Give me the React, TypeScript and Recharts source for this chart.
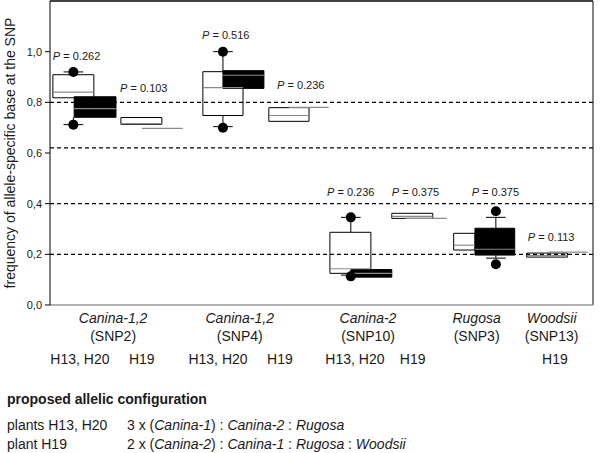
import React from 'react';
import {
  ComposedChart,
  XAxis,
  YAxis,
  Scatter,
  ReferenceArea,
  ReferenceLine,
} from 'recharts';

// x is measured in box widths from the left axis, y is the allele frequency
const X_MAX = 13.25;

const categoryNames = ['Canina-1,2', 'Canina-1,2', 'Canina-2', 'Rugosa', 'Woodsii'];
const categorySnps = ['(SNP2)', '(SNP4)', '(SNP10)', '(SNP3)', '(SNP13)'];
const categoryPos = [1.54, 4.63, 7.76, 10.41, 12.24];

const plantLabels = ['H13, H20', 'H19', 'H13, H20', 'H19', 'H13, H20', 'H19', 'H19'];
const plantPos = [0.73, 2.24, 4.1, 5.61, 7.44, 8.85, 12.32];

const yTicks = [0, 0.2, 0.4, 0.6, 0.8, 1.0];
const dashedLevels = [0.2, 0.4, 0.62, 0.8];

// box = [x1, x2, q1, median, q3]
const openBoxes = [
  [0.07, 1.07, 0.818, 0.84, 0.909],
  [3.73, 4.71, 0.748, 0.858, 0.921],
  [6.83, 7.83, 0.125, 0.143, 0.287],
  [9.85, 10.37, 0.217, 0.236, 0.283],
];
const filledBoxes = [
  [0.59, 1.61, 0.741, 0.775, 0.822],
  [4.22, 5.22, 0.855, 0.907, 0.925],
  [7.34, 8.34, 0.11, 0.125, 0.14],
  [10.37, 11.34, 0.197, 0.22, 0.303],
];
const h19Boxes = [
  [1.73, 2.73, 0.713, 0.716, 0.74],
  [5.34, 6.32, 0.725, 0.748, 0.779],
  [8.34, 9.34, 0.342, 0.35, 0.362],
  [11.63, 12.63, 0.189, 0.195, 0.205],
];
// [x1, x2, y]
const h19Lines = [
  [2.24, 3.24, 0.697],
  [5.83, 6.8, 0.78],
  [8.68, 9.68, 0.342],
  [12.15, 13.12, 0.209],
];
// [x, from, to]
const whiskers = [
  [0.57, 0.909, 0.92],
  [0.57, 0.741, 0.712],
  [4.22, 0.921, 1.0],
  [4.22, 0.748, 0.704],
  [7.34, 0.287, 0.346],
  [7.34, 0.125, 0.118],
  [10.88, 0.303, 0.346],
  [10.88, 0.197, 0.185],
];
const extremes = [
  { x: 0.57, y: 0.92 },
  { x: 0.57, y: 0.712 },
  { x: 4.22, y: 1.0 },
  { x: 4.22, y: 0.7 },
  { x: 7.34, y: 0.346 },
  { x: 7.34, y: 0.113 },
  { x: 10.88, y: 0.37 },
  { x: 10.88, y: 0.161 },
];
const pValues = [
  { x: 0.07, y: 0.983, p: '0.262' },
  { x: 1.71, y: 0.858, p: '0.103' },
  { x: 3.71, y: 1.066, p: '0.516' },
  { x: 5.54, y: 0.869, p: '0.236' },
  { x: 6.76, y: 0.445, p: '0.236' },
  { x: 8.34, y: 0.445, p: '0.375' },
  { x: 10.29, y: 0.445, p: '0.375' },
  { x: 11.66, y: 0.268, p: '0.113' },
];

const FONT = 'Liberation Sans, Arial, sans-serif';
const INK = '#1a1a1a';
const MEDIAN = '#8a8a8a';

// one axis carries both label rows: group names and plant names
const AxisTick = (props: any) => {
  const { x, y, payload } = props;
  const ci = categoryPos.indexOf(payload.value);
  if (ci >= 0) {
    return (
      <text x={x} y={y} textAnchor="middle" fontSize={14} fontFamily={FONT} fill={INK}>
        <tspan x={x} dy={18} fontStyle="italic">{categoryNames[ci]}</tspan>
        <tspan x={x} dy={18}>{categorySnps[ci]}</tspan>
      </text>
    );
  }
  const pi = plantPos.indexOf(payload.value);
  return (
    <text x={x} y={y + 59} textAnchor="middle" fontSize={14} fontFamily={FONT} fill={INK}>
      {plantLabels[pi]}
    </text>
  );
};

const renderBox = (b: number[], key: string, fill: string) => [
  <ReferenceArea
    key={key}
    x1={b[0]}
    x2={b[1]}
    y1={b[2]}
    y2={b[4]}
    fill={fill}
    fillOpacity={1}
    stroke="#000"
    strokeWidth={1}
  />,
  <ReferenceLine
    key={key + 'm'}
    segment={[{ x: b[0], y: b[3] }, { x: b[1], y: b[3] }]}
    stroke={MEDIAN}
    strokeWidth={1.2}
  />,
];

export default function App() {
  return (
    <div style={{ position: 'relative', width: 600, height: 453, background: '#fff', fontFamily: FONT }}>
      <style>{'body{margin:0}'}</style>
      <ComposedChart
        width={600}
        height={453}
        margin={{ top: 1, right: 7, left: 0, bottom: 73 }}
      >
        <XAxis
          type="number"
          dataKey="x"
          domain={[0, X_MAX]}
          ticks={[...categoryPos, ...plantPos]}
          tick={<AxisTick />}
          tickLine={false}
          tickSize={0}
          tickMargin={0}
          height={75}
          axisLine={{ stroke: '#999', strokeWidth: 1.5 }}
          interval={0}
        />
        <YAxis
          type="number"
          dataKey="y"
          domain={[0, 1.2]}
          ticks={yTicks}
          width={50}
          tickSize={5}
          tickMargin={3}
          axisLine={{ stroke: '#000' }}
          tickLine={{ stroke: '#000' }}
          tick={{ fontSize: 11, fill: INK, fontFamily: FONT }}
          tickFormatter={(v: number) => v.toFixed(1).replace('.', ',')}
          label={{
            content: (p: any) => {
              const vb = p.viewBox || { y: 1, height: 304 };
              const cx = 10;
              const cy = vb.y + vb.height / 2;
              return (
                <text
                  x={cx}
                  y={cy}
                  transform={`rotate(-90 ${cx} ${cy})`}
                  textAnchor="middle"
                  dominantBaseline="central"
                  fontSize={14}
                  fontFamily={FONT}
                  fill={INK}
                >
                  frequency of allele-specific base at the SNP
                </text>
              );
            },
          }}
        />

        <ReferenceLine y={1.2} stroke="#000" strokeWidth={1.5} />
        <ReferenceLine x={X_MAX} stroke="#333" strokeWidth={1.2} />
        {dashedLevels.map((v) => (
          <ReferenceLine key={'d' + v} y={v} stroke="#000" strokeWidth={1.3} strokeDasharray="4 3" />
        ))}

        {whiskers.map((w, i) => (
          <ReferenceLine
            key={'w' + i}
            segment={[{ x: w[0], y: w[1] }, { x: w[0], y: w[2] }]}
            stroke="#000"
          />
        ))}
        {whiskers.map((w, i) => (
          <ReferenceLine
            key={'c' + i}
            segment={[{ x: w[0] - 0.24, y: w[2] }, { x: w[0] + 0.24, y: w[2] }]}
            stroke="#000"
          />
        ))}

        {openBoxes.map((b, i) => renderBox(b, 'o' + i, '#fff'))}
        {filledBoxes.map((b, i) => renderBox(b, 'f' + i, '#000'))}
        {h19Boxes.map((b, i) => renderBox(b, 'h' + i, '#fff'))}
        {h19Lines.map((l, i) => (
          <ReferenceLine
            key={'l' + i}
            segment={[{ x: l[0], y: l[2] }, { x: l[1], y: l[2] }]}
            stroke={MEDIAN}
            strokeWidth={1.2}
          />
        ))}

        <Scatter
          data={extremes}
          isAnimationActive={false}
          shape={(p: any) => <circle cx={p.cx} cy={p.cy} r={5} fill="#000" />}
        />
        <Scatter
          data={pValues}
          isAnimationActive={false}
          shape={(p: any) => (
            <text
              x={p.cx}
              y={p.cy}
              dominantBaseline="central"
              fontSize={11}
              fontFamily={FONT}
              fill={INK}
            >
              <tspan fontStyle="italic">P</tspan> = {p.payload.p}
            </text>
          )}
        />
      </ComposedChart>

      <div style={{ position: 'absolute', left: 7, top: 391, fontSize: 14, fontWeight: 'bold', color: INK }}>
        proposed allelic configuration
      </div>
      <div style={{ position: 'absolute', left: 7, top: 417, fontSize: 14, color: INK }}>plants H13, H20</div>
      <div style={{ position: 'absolute', left: 127, top: 417, fontSize: 14, color: INK }}>
        3 x (<i>Canina-1</i>) : <i>Canina-2</i> : <i>Rugosa</i>
      </div>
      <div style={{ position: 'absolute', left: 7, top: 436, fontSize: 14, color: INK }}>plant H19</div>
      <div style={{ position: 'absolute', left: 127, top: 436, fontSize: 14, color: INK }}>
        2 x (<i>Canina-2</i>) : <i>Canina-1</i> : <i>Rugosa</i> : <i>Woodsii</i>
      </div>
    </div>
  );
}
